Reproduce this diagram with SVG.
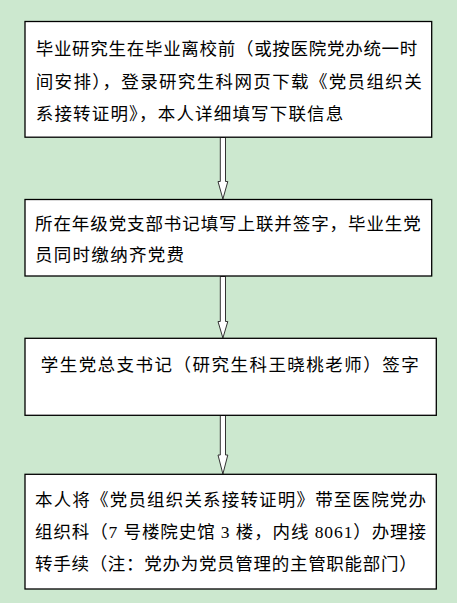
<svg xmlns="http://www.w3.org/2000/svg" width="457" height="603" viewBox="0 0 457 603">
<style>
.bg{fill:#cce8cf}
.box{fill:#ffffff;stroke:#000000;stroke-width:1.3}
.t{font-family:"Liberation Serif","Noto Sans CJK SC",sans-serif;font-size:17.5px;fill:#000000}
.arrow{fill:#ffffff;stroke:#333333;stroke-width:1}
</style>
<rect class="bg" x="0" y="0" width="457" height="603"/>
<g id="connectors">
  <path class="arrow" d="M220.3,137.5 L225.5,137.5 L225.5,181.5 L227.8,181.5 L222.9,199 L218,181.5 L220.3,181.5 Z"/>
  <path class="arrow" d="M220.3,276.5 L225.5,276.5 L225.5,321.5 L227.8,321.5 L222.9,338 L218,321.5 L220.3,321.5 Z"/>
  <path class="arrow" d="M220.3,415.5 L225.5,415.5 L225.5,455 L227.8,455 L222.9,474 L218,455 L220.3,455 Z"/>
</g>
<g id="node1">
  <rect class="box" x="25" y="21.5" width="406.7" height="115.7"/>
  <text class="t" x="35.7" y="54.6" textLength="381.6" lengthAdjust="spacing">毕业研究生在毕业离校前（或按医院党办统一时</text>
  <text class="t" x="35.7" y="87.6" textLength="386" lengthAdjust="spacing">间安排），登录研究生科网页下载《党员组织关</text>
  <text class="t" x="35.7" y="120.3" textLength="307.6" lengthAdjust="spacing">系接转证明》，本人详细填写下联信息</text>
</g>
<g id="node2">
  <rect class="box" x="25" y="199.5" width="406.7" height="76.5"/>
  <text class="t" x="35" y="230.3" textLength="385.7" lengthAdjust="spacing">所在年级党支部书记填写上联并签字，毕业生党</text>
  <text class="t" x="35" y="261" textLength="149" lengthAdjust="spacing">员同时缴纳齐党费</text>
</g>
<g id="node3">
  <rect class="box" x="25" y="338.3" width="411.3" height="77"/>
  <text class="t" x="40.7" y="371" textLength="378" lengthAdjust="spacing">学生党总支书记（研究生科王晓桃老师）签字</text>
</g>
<g id="node4">
  <rect class="box" x="25" y="474.3" width="411.3" height="114.7"/>
  <text class="t" x="35" y="506" textLength="391" lengthAdjust="spacing">本人将《党员组织关系接转证明》带至医院党办</text>
  <text class="t" x="35" y="537.6" textLength="391" lengthAdjust="spacing">组织科（7 号楼院史馆 3 楼，内线 8061）办理接</text>
  <text class="t" x="35" y="570" textLength="381.7" lengthAdjust="spacing">转手续（注：党办为党员管理的主管职能部门）</text>
</g>
</svg>
